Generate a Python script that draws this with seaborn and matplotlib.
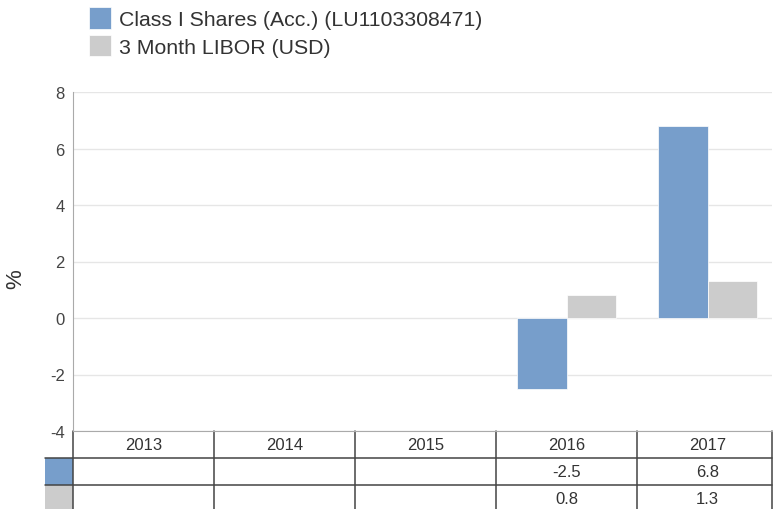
import numpy as np
import pandas as pd
import seaborn as sns
import matplotlib.pyplot as plt
import matplotlib.transforms as mtransforms
from matplotlib.patches import Rectangle

years = ['2013', '2014', '2015', '2016', '2017']
fund = [np.nan, np.nan, np.nan, -2.5, 6.8]
libor = [np.nan, np.nan, np.nan, 0.8, 1.3]
series = ['Class I Shares (Acc.) (LU1103308471)', '3 Month LIBOR (USD)']
colors = ['#779ecb', '#cccccc']
yticks = [-4, -2, 0, 2, 4, 6, 8]

df = pd.DataFrame({
    'Year': years * 2,
    'Value': fund + libor,
    'Series': [series[0]] * len(years) + [series[1]] * len(years),
})

sns.set_style('white')
plt.rcParams['font.family'] = ['Liberation Sans', 'DejaVu Sans']
text_col = '#333333'

fig = plt.figure(figsize=(7.73, 5.10), dpi=100)
ax = fig.add_axes([73 / 773, 1 - 432 / 510, 699 / 773, 339 / 510])

sns.barplot(data=df, x='Year', y='Value', hue='Series', palette=colors,
            width=0.7, saturation=1, errorbar=None, ax=ax,
            edgecolor='white', linewidth=0.5)

handles, labels = ax.get_legend_handles_labels()
ax.get_legend().remove()
fig.legend(handles, labels, loc='upper left', bbox_to_anchor=(89 / 773, 1 - 8 / 510),
           frameon=False, fontsize=15.3, handlelength=1.05, handleheight=1.2,
           handletextpad=0.35, labelspacing=0.26, borderpad=0, borderaxespad=0,
           labelcolor=text_col)

# column width in the original is 141 px, last column is cut short
col_px = 141
ax.set_ylim(-4, 8)
ax.set_xlim(-0.5, -0.5 + 699 / col_px)
ax.set_yticks(yticks)
ax.set_yticklabels([str(t) for t in yticks], fontsize=12, color='#444444')
ax.tick_params(axis='y', length=0, pad=6)
ax.set_xticks([])
ax.set_xlabel('')
ax.set_ylabel('%', fontsize=16, color=text_col)
ax.yaxis.set_label_coords(-0.067, 0.45)
ax.grid(axis='y', color='#e6e6e6', linewidth=1)
ax.set_axisbelow(True)
for s in ['top', 'right']:
    ax.spines[s].set_visible(False)
ax.spines['left'].set_color('#aaaaaa')
ax.spines['bottom'].set_color('#aaaaaa')

# data table under the plot
h = 27 / 339
blend = mtransforms.blended_transform_factory(ax.transData, ax.transAxes)
line_col = '#444444'
n = len(years)
for i in range(n):
    ax.plot([i - 0.5, i - 0.5], [0, -3.2 * h], transform=blend, color=line_col,
            lw=1.1, clip_on=False)
ax.plot([1, 1], [0, -3.2 * h], transform=ax.transAxes, color=line_col,
        lw=1.1, clip_on=False)
lab_w = 28 / 699
for k in [1, 2]:
    ax.plot([-lab_w, 1], [-k * h, -k * h], transform=ax.transAxes, color=line_col,
            lw=1.1, clip_on=False)
for k, c in enumerate(colors):
    ax.add_patch(Rectangle((-lab_w, -(k + 2) * h), lab_w, h, transform=ax.transAxes,
                           facecolor=c, edgecolor='none', clip_on=False))

for i, y in enumerate(years):
    ax.text(i, -0.5 * h, y, transform=blend, ha='center', va='center',
            fontsize=12, color=text_col)
    for k, vals in enumerate([fund, libor]):
        if not np.isnan(vals[i]):
            ax.text(i, -(k + 1.5) * h, f'{vals[i]:.1f}', transform=blend,
                    ha='center', va='center', fontsize=12, color=text_col)

plt.savefig('out.png', dpi=100)
